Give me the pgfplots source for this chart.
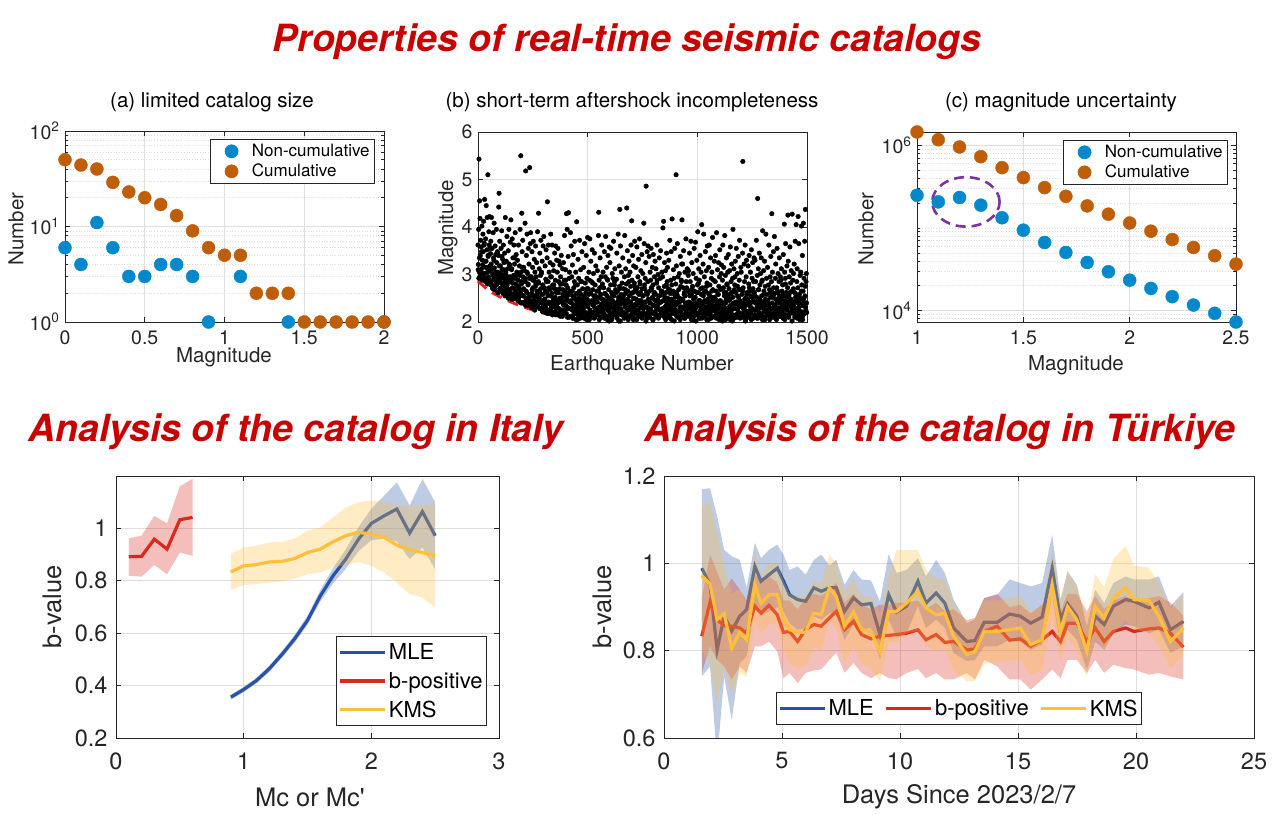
\documentclass[border=0pt]{standalone}
\usepackage{fontspec}
\setmainfont{TeX Gyre Heros}
\usepackage{pgfplots}
\usepackage{pgfplotstable}
\pgfplotsset{compat=1.18}

\definecolor{mblue}{RGB}{0,136,204}
\definecolor{mbrown}{RGB}{192,94,8}
\definecolor{axgray}{RGB}{38,38,38}
\definecolor{gridgray}{RGB}{222,222,222}
\definecolor{titlered}{RGB}{200,0,0}
\definecolor{lblue}{RGB}{40,82,165}
\definecolor{lred}{RGB}{218,40,30}
\definecolor{lyel}{RGB}{255,190,60}
\definecolor{ellpurple}{RGB}{125,50,165}
\definecolor{dashred}{RGB}{235,30,30}

\newcommand{\fs}[1]{\fontsize{#1}{#1}\selectfont}

\pgfplotsset{
  mat/.style={
    scale only axis, anchor=south west,
    axis line style={draw=axgray, line width=0.7pt},
    tick style={draw=axgray, line width=0.7pt},
    major tick length=5pt, minor tick length=3pt,
    tick align=inside,
    grid=major,
    major grid style={draw=gridgray, line width=0.7pt},
    minor grid style={draw=gridgray, line width=0.7pt, dotted},
    /pgf/number format/assume math mode=true,
    /pgf/number format/1000 sep={},
    scaled ticks=false,
    tick label style={text=axgray},
    legend cell align=left,
  },
  topax/.style={
    tick label style={font=\fs{19.5}},
    xticklabel style={yshift=-5pt}, yticklabel style={xshift=-2pt},
  },
  botax/.style={
    tick label style={font=\fs{23.5}},
    xticklabel style={yshift=-11pt}, yticklabel style={xshift=-5pt},
  },
  dotleg/.style={
    legend style={at={(1,1)}, anchor=north east, yshift=-8pt,
      draw=axgray, line width=0.7pt, font=\fs{17}, inner xsep=3pt, inner ysep=3pt, row sep=2pt},
    legend image code/.code={\path (0pt,0pt) (36pt,0pt); \draw[##1] plot coordinates {(18pt,0pt)};},
  },
}

% ---------------- panel (b) scatter, part 1: 50 rows x 20 columns, earthquake number = 1.5*(20*row+col)
\pgfplotstableread[header=false]{
3.62 3.21 3.95 5.43 3.05 4.55 4.18 3.40 3.72 2.95 3.58 3.12 4.02 3.30 2.98 3.85 3.48 4.12 3.02 3.66
4.58 3.28 2.92 3.75 3.15 4.45 2.88 3.52 4.20 3.05 5.10 3.38 2.95 3.90 3.62 4.22 3.18 2.85 3.44 3.70
3.22 4.20 2.78 3.55 3.02 2.70 3.88 3.35 2.92 4.08 3.14 2.75 3.60 3.00 3.42 2.85 3.95 3.25 2.82 3.48
3.05 2.62 3.40 4.42 4.71 2.88 3.70 2.70 3.18 2.95 3.55 2.65 3.92 3.10 2.78 3.32 2.60 3.62 2.98 3.25
2.75 3.45 2.55 4.20 3.02 2.66 3.28 2.90 3.80 2.58 3.12 2.70 3.50 2.85 3.95 2.62 3.20 2.95 3.68 2.52
4.15 2.60 3.10 2.48 3.75 2.82 3.35 2.55 2.98 3.62 2.70 3.22 2.50 3.88 2.92 2.65 3.42 2.78 3.05 2.58
3.30 2.45 2.88 3.62 2.52 2.70 3.18 2.42 3.95 2.60 5.50 3.05 2.80 4.29 3.48 2.40 3.72 2.95 2.55 3.15
2.68 3.08 2.40 4.08 2.85 5.18 2.50 3.40 2.62 3.85 2.35 3.02 2.78 3.55 2.45 3.22 2.92 5.25 2.55 3.65
3.88 2.38 2.95 2.60 3.48 2.30 3.15 2.72 3.70 2.45 2.88 3.32 2.52 3.05 2.35 3.60 2.80 2.42 3.25 2.65
2.55 3.90 2.32 2.85 4.29 2.48 3.12 2.65 3.45 2.28 2.98 3.72 2.40 3.05 2.58 3.28 2.22 2.78 3.60 2.45
3.80 2.30 2.72 2.48 3.18 2.20 2.90 3.52 2.38 2.62 3.35 4.53 2.25 2.85 3.62 2.42 3.05 2.18 2.68 3.25
2.55 3.85 2.28 2.95 2.40 3.62 2.15 2.78 3.20 2.50 3.08 2.35 2.70 3.45 2.22 2.88 3.60 2.45 2.62 3.30
2.30 3.05 2.62 3.55 2.18 2.85 3.28 2.42 2.70 3.20 2.12 2.95 2.50 3.40 2.25 2.80 2.15 3.12 2.58 2.38
3.25 2.45 2.88 3.82 2.20 2.65 3.10 2.35 2.78 4.28 2.52 3.95 2.10 2.60 3.38 4.30 2.28 2.92 3.05 2.42
2.65 3.88 2.12 3.60 2.40 2.95 2.25 3.20 2.55 2.08 3.42 2.72 2.18 2.85 3.70 2.32 2.48 3.05 2.05 2.60
4.11 2.35 2.78 2.15 3.32 2.50 2.92 2.22 2.65 3.72 2.40 2.08 3.10 2.58 2.30 2.85 3.48 2.18 2.70 2.45
2.28 3.15 2.55 2.10 3.65 2.38 2.82 2.20 2.62 3.40 2.05 2.92 2.48 3.78 2.32 2.70 2.15 3.05 2.42 2.88
3.75 2.22 2.60 3.28 2.12 2.85 2.40 3.52 2.18 2.68 2.35 3.02 2.55 2.08 3.45 2.30 2.78 2.48 3.18 2.25
2.42 2.65 2.15 3.08 2.52 2.30 3.82 4.31 2.88 2.20 2.72 3.35 2.10 2.58 2.95 2.38 3.62 2.25 2.80 2.48
3.05 2.35 2.72 2.18 3.48 2.60 2.28 2.95 3.80 2.12 2.45 3.15 2.55 2.05 2.88 3.40 2.32 2.68 2.22 3.58
2.50 3.25 2.15 2.78 3.55 2.38 2.62 2.08 3.02 2.45 2.92 2.20 3.70 2.55 2.30 2.85 3.12 2.18 2.68 2.40
2.25 2.90 3.45 2.12 2.65 2.35 3.85 2.52 2.02 3.18 2.75 4.37 2.42 3.60 2.28 2.58 3.05 2.15 2.82 2.48
3.35 2.20 2.70 2.45 2.10 2.95 3.82 2.32 2.60 3.12 2.18 2.80 4.40 2.40 3.50 2.08 2.65 2.98 2.25 3.28
2.55 2.28 3.05 2.42 2.75 3.62 2.15 4.13 2.88 2.35 3.40 2.62 2.05 3.18 2.50 2.82 3.70 2.22 2.68 2.38
3.15 2.48 2.20 3.58 2.72 2.10 2.95 2.40 3.32 2.58 2.18 3.75 2.85 2.30 2.62 3.08 2.45 2.12 3.42 2.70
2.35 3.02 2.55 2.20 4.08 3.65 2.78 2.42 2.92 2.15 3.25 4.86 2.62 2.08 3.48 2.30 2.85 3.60 2.48 2.25
3.38 2.65 2.12 3.05 2.40 2.88 3.55 2.22 2.70 2.50 3.15 2.05 2.78 3.42 2.35 2.60 2.95 2.18 3.28 2.45
2.58 3.12 2.30 2.82 3.62 2.15 2.48 3.00 2.38 2.72 2.10 3.35 2.55 2.25 2.92 3.50 2.42 2.65 2.20 3.05
2.28 2.95 3.98 2.45 4.12 2.18 2.75 3.25 2.52 2.08 3.08 2.62 2.35 3.45 2.22 2.85 3.15 2.40 2.70 2.12
3.30 2.48 2.15 3.72 2.60 2.30 2.88 3.48 2.05 2.78 4.17 2.42 2.25 2.65 3.10 2.38 2.92 2.18 3.55 2.52
2.35 2.80 5.10 3.18 2.12 2.58 3.65 2.42 2.95 2.22 2.68 2.10 3.02 2.50 2.30 3.38 2.75 2.20 2.88 3.22
4.15 2.45 3.22 2.15 2.72 3.50 2.32 2.62 2.08 3.05 2.55 2.25 3.75 2.85 2.40 2.18 3.12 2.68 2.35 2.98
3.08 2.28 2.62 3.45 2.18 2.85 2.40 3.70 2.12 2.58 3.25 2.35 2.75 2.05 3.02 2.48 2.22 3.55 2.65 2.30
2.52 3.68 2.20 2.92 2.40 3.30 2.15 2.78 3.90 2.35 2.62 3.12 2.08 2.88 2.45 3.40 2.25 2.70 3.05 2.18
4.05 2.38 2.72 2.12 3.22 2.55 3.85 2.28 2.95 2.45 2.18 3.48 2.65 2.32 3.08 2.05 2.82 3.60 2.42 2.22
2.60 3.15 2.30 3.62 2.15 2.78 2.42 3.35 2.08 2.92 2.52 3.05 2.25 3.78 2.68 2.35 2.88 2.12 3.28 2.48
2.32 2.85 3.40 2.20 2.65 3.88 2.45 2.12 3.10 2.58 2.28 3.25 2.75 2.05 2.95 3.52 2.38 2.68 2.18 3.02
3.20 2.42 2.10 2.88 3.62 2.30 2.72 3.15 2.22 2.55 3.82 2.15 2.98 2.40 2.62 3.35 2.08 2.78 2.48 3.05
2.55 3.42 2.25 2.70 2.12 3.08 2.48 3.58 2.35 2.85 2.18 3.22 2.62 2.02 2.92 3.95 2.40 2.28 3.12 2.68
2.38 2.95 3.28 2.15 2.62 3.55 2.42 2.10 3.02 2.75 2.28 3.38 2.52 2.20 2.88 3.72 2.45 2.08 2.68 3.15
3.05 2.32 2.58 2.18 3.45 5.38 2.72 2.40 2.12 3.22 2.85 2.25 3.62 2.50 2.05 2.95 3.30 2.38 2.62 2.15
2.48 3.18 2.22 2.80 3.40 2.10 2.65 2.35 3.05 2.55 2.18 3.52 2.42 2.92 2.28 3.25 2.70 2.08 2.85 3.35
2.62 2.15 3.30 2.40 2.85 2.25 3.72 2.52 2.08 2.98 4.60 2.38 3.12 2.68 2.18 3.45 2.30 2.78 2.45 3.02
2.30 3.35 2.55 2.12 2.88 3.92 2.42 2.20 3.08 2.65 2.35 3.28 2.05 2.75 2.48 3.85 2.25 2.92 2.58 2.15
3.15 2.45 2.22 2.78 3.62 2.32 2.68 2.10 2.95 2.52 3.38 2.18 2.85 4.28 2.40 3.05 2.62 2.28 3.48 2.12
2.58 3.80 2.35 2.15 2.92 3.22 2.48 2.05 2.72 3.55 2.28 2.62 3.02 2.42 2.18 2.85 3.35 2.52 2.25 2.95
2.40 2.88 3.12 2.20 2.65 2.32 2.78 2.08 3.42 2.55 2.15 4.06 3.05 2.45 2.92 3.65 2.28 2.62 2.38 3.18
2.25 2.72 4.25 3.28 2.12 2.55 2.95 2.38 3.58 2.18 2.82 2.48 3.08 2.30 2.65 4.27 2.22 2.88 2.42 3.02
2.35 3.22 2.62 2.10 3.70 2.52 2.28 4.05 2.45 2.85 3.12 2.18 2.72 4.22 2.40 3.65 2.32 2.58 2.05 2.98
2.50 3.05 2.22 4.02 2.78 2.35 3.40 2.12 2.65 4.08 2.42 2.92 2.18 3.70 2.55 4.37 2.30 2.85 3.02 2.20
}\scatterdata
% part 2: 25 rows x 20 columns, earthquake number = 60*row + 3*col + 0.75
\pgfplotstableread[header=false]{
3.10 2.92 3.35 2.98 3.05 3.48 2.88 3.20 2.95 3.62 3.02 2.85 3.28 3.15 2.80 3.40 2.90 3.08 3.55 2.78
2.85 3.12 2.72 2.98 3.30 2.68 2.90 3.05 2.78 3.45 2.62 2.95 3.18 2.70 3.02 2.82 3.38 2.66 2.92 3.10
2.62 2.85 3.05 2.55 2.78 2.95 2.50 3.22 2.68 2.88 2.58 3.12 2.72 2.48 2.92 3.35 2.60 2.80 2.52 3.00
2.52 2.75 2.45 2.98 2.62 2.40 2.85 3.15 2.55 2.70 2.42 2.92 2.35 2.65 3.05 2.48 2.80 2.58 2.38 2.95
2.45 2.30 2.68 2.88 2.38 2.55 2.25 2.75 2.95 2.42 2.62 2.32 2.82 2.50 2.28 2.70 3.02 2.40 2.58 2.35
2.22 2.48 2.65 2.30 2.85 2.18 2.55 2.40 2.72 2.25 2.95 2.35 2.60 2.20 2.45 2.78 2.32 2.52 2.15 2.68
2.38 2.15 2.62 2.28 2.50 2.80 2.20 2.42 2.12 2.68 2.35 2.55 2.25 2.88 2.18 2.45 2.72 2.30 2.10 2.58
2.12 2.45 2.28 2.65 2.08 2.35 2.52 2.18 2.78 2.25 2.42 2.05 2.60 2.32 2.15 2.48 2.85 2.22 2.38 2.10
2.30 2.08 2.52 2.18 2.40 2.70 2.12 2.35 2.58 2.05 2.25 2.62 2.15 2.45 2.82 2.20 2.38 2.10 2.55 2.28
2.15 2.42 2.22 2.65 2.05 2.32 2.50 2.10 2.75 2.28 2.18 2.45 2.08 2.60 2.35 2.12 2.90 2.25 2.40 2.02
2.48 2.12 2.30 2.05 2.58 2.20 2.40 2.78 2.15 2.35 2.62 2.08 2.28 2.45 2.18 2.70 2.02 2.38 2.55 2.22
2.20 2.55 2.08 2.38 2.68 2.15 2.28 2.48 2.05 2.85 2.32 2.12 2.42 2.60 2.22 2.10 2.50 2.30 2.75 2.18
2.35 2.05 2.62 2.25 2.12 2.45 2.80 2.18 2.38 2.08 2.55 2.28 2.15 2.70 2.42 2.02 2.32 2.58 2.20 2.48
2.10 2.40 2.28 2.72 2.18 2.52 2.05 2.35 2.62 2.22 2.12 2.45 2.88 2.30 2.08 2.55 2.25 2.15 2.42 2.65
2.58 2.22 2.12 2.45 2.32 2.05 2.78 2.28 2.50 2.15 2.38 2.68 2.08 2.25 2.48 2.18 2.60 2.35 2.02 2.42
2.25 2.62 2.38 2.10 2.52 2.20 2.42 2.05 2.32 2.85 2.15 2.48 2.28 2.58 2.08 2.40 2.18 2.72 2.30 2.12
2.42 2.15 2.55 2.30 2.05 2.68 2.22 2.38 2.12 2.50 2.28 2.02 2.62 2.35 2.18 2.82 2.45 2.08 2.32 2.58
2.08 2.35 2.22 2.62 2.42 2.12 2.28 2.75 2.18 2.48 2.05 2.38 2.55 2.20 2.32 2.65 2.10 2.45 2.25 2.52
2.50 2.28 2.08 2.40 2.18 2.58 2.32 2.12 2.45 2.70 2.22 2.02 2.38 2.15 2.62 2.30 2.05 2.48 2.80 2.25
2.18 2.45 2.32 2.05 2.60 2.25 2.12 2.52 2.38 2.08 2.78 2.28 2.42 2.15 2.55 2.20 2.35 2.68 2.10 2.40
2.38 2.10 2.65 2.28 2.15 2.48 2.02 2.35 2.58 2.22 2.12 2.42 2.72 2.18 2.30 2.05 2.52 2.25 2.45 2.62
2.25 2.55 2.12 2.42 2.32 2.08 2.68 2.20 2.48 2.15 2.38 2.85 2.05 2.30 2.58 2.22 2.10 2.45 2.35 2.18
2.45 2.20 2.38 2.05 2.62 2.28 2.15 2.52 2.10 2.72 2.32 2.22 2.48 2.08 2.40 2.65 2.18 2.30 2.55 2.12
2.12 2.48 2.25 2.58 2.18 2.38 2.05 2.80 2.30 2.15 2.52 2.42 2.10 2.35 2.62 2.20 2.45 2.02 2.28 2.70
2.32 2.15 2.60 2.22 2.42 2.08 2.55 2.28 2.12 2.48 2.38 2.65 2.20 2.05 2.35 2.50 2.18 2.75 2.25 2.40
}\scatterdataB

% ---------------- Italy (lines)
\pgfplotstableread{
x y
0.1 0.892
0.2 0.893
0.3 0.959
0.4 0.921
0.5 1.033
0.6 1.042
}\ItBP
\pgfplotstableread{
x y
0.9 0.356
1.0 0.385
1.1 0.419
1.2 0.464
1.3 0.519
1.4 0.579
1.5 0.649
1.6 0.742
1.7 0.819
1.8 0.883
1.9 0.959
2.0 1.019
2.1 1.048
2.2 1.074
2.3 0.982
2.4 1.064
2.5 0.972
}\ItMLE
\pgfplotstableread{
x y
0.9 0.834
1.0 0.857
1.1 0.862
1.2 0.872
1.3 0.874
1.4 0.885
1.5 0.908
1.6 0.921
1.7 0.949
1.8 0.972
1.9 0.985
2.0 0.978
2.1 0.966
2.2 0.936
2.3 0.918
2.4 0.908
2.5 0.895
}\ItKMS

% ---------------- Turkiye (lines): x mle bpos kms
\pgfplotstableread{
x mle bp km
1.6 0.989 0.833 0.972
1.95 0.951 0.911 0.953
2.25 0.802 0.871 0.871
2.55 0.879 0.857 0.885
2.87 0.845 0.856 0.806
3.21 0.879 0.852 0.842
3.5 0.894 0.840 0.825
3.85 0.993 0.902 0.951
4.11 0.959 0.886 0.909
4.45 0.974 0.904 0.928
4.8 0.989 0.882 0.928
5.06 0.96 0.842 0.875
5.32 0.928 0.844 0.848
5.66 0.917 0.821 0.842
6.0 0.913 0.848 0.842
6.35 0.944 0.860 0.886
6.66 0.936 0.856 0.882
7.01 0.944 0.875 0.944
7.3 0.944 0.890 0.924
7.65 0.890 0.848 0.856
8.03 0.921 0.867 0.889
8.37 0.905 0.837 0.848
8.77 0.908 0.827 0.844
9.15 0.837 0.833 0.798
9.52 0.928 0.835 0.890
9.86 0.888 0.837 0.890
10.28 0.902 0.840 0.909
10.76 0.959 0.848 0.936
11.1 0.909 0.825 0.898
11.53 0.932 0.837 0.882
11.9 0.909 0.819 0.886
12.27 0.852 0.821 0.833
12.83 0.821 0.802 0.791
13.17 0.823 0.804 0.798
13.57 0.865 0.844 0.844
14.12 0.865 0.856 0.844
14.64 0.884 0.824 0.848
15.1 0.879 0.827 0.852
15.54 0.863 0.810 0.814
16.02 0.877 0.825 0.825
16.45 0.989 0.844 0.951
16.8 0.871 0.821 0.844
17.1 0.908 0.863 0.901
17.49 0.879 0.863 0.871
17.92 0.802 0.821 0.798
18.27 0.879 0.852 0.901
18.65 0.860 0.821 0.875
19.04 0.902 0.844 0.921
19.56 0.917 0.852 0.944
19.91 0.913 0.844 0.917
20.55 0.898 0.850 0.915
20.97 0.911 0.852 0.879
21.46 0.848 0.840 0.821
22.01 0.867 0.808 0.852
}\TK

\begin{document}
\begin{tikzpicture}
\useasboundingbox (0,0) rectangle (1277pt,814pt);

% ===== (a)
\begin{axis}[mat, topax, dotleg, at={(65pt,492pt)}, width=319pt, height=191pt,
  xmin=0, xmax=2, ymode=log, ymin=1, ymax=100, clip=false,
  xtick={0,0.5,1,1.5,2}, ytick={1,10,100},
  yticklabels={10\textsuperscript{0},10\textsuperscript{1},10\textsuperscript{2}},
  minor ytick={2,3,4,5,6,7,8,9,20,30,40,50,60,70,80,90}, yminorgrids=true,
  legend style={xshift=-9pt}]
\addplot[only marks, mark=*, mark size=6.5pt, color=mblue] coordinates {(0,6)(0.1,4)(0.2,11)(0.3,6)(0.4,3)(0.5,3)(0.6,4)(0.7,4)(0.8,3)(0.9,1)(1.1,3)(1.4,1)(2,1)};
\addlegendentry{Non-cumulative}
\addplot[only marks, mark=*, mark size=6.5pt, color=mbrown] coordinates {(0,50)(0.1,44)(0.2,40)(0.3,29)(0.4,23)(0.5,20)(0.6,17)(0.7,13)(0.8,9)(0.9,6)(1,5)(1.1,5)(1.2,2)(1.3,2)(1.4,2)(1.5,1)(1.6,1)(1.7,1)(1.8,1)(1.9,1)(2,1)};
\addlegendentry{Cumulative}
\end{axis}

% ===== (b)
\begin{axis}[mat, topax, at={(478pt,492pt)}, width=329pt, height=190pt,
  xmin=0, xmax=1500, ymin=2, ymax=6, clip=false,
  xtick={0,500,1000,1500}, ytick={2,3,4,5,6}]
\pgfplotsinvokeforeach{0,...,19}{
  \addplot[only marks, mark=*, mark size=2.3pt, black] table[x expr=\coordindex*30+#1*1.5, y index=#1] {\scatterdata};
  \addplot[only marks, mark=*, mark size=2.3pt, black] table[x expr=\coordindex*60+#1*3+0.75, y index=#1] {\scatterdataB};
}
\addplot[dashred, line width=2.8pt, dash pattern=on 11pt off 7pt, smooth] coordinates {(0,2.86)(50,2.66)(100,2.53)(150,2.42)(200,2.33)(250,2.25)(310,2.17)};
\end{axis}

% ===== (c)
\begin{axis}[mat, topax, dotleg, at={(917pt,492pt)}, width=319pt, height=190pt,
  xmin=1, xmax=2.5, ymode=log, ymin=7300, ymax=1450000, clip=false,
  xtick={1,1.5,2,2.5}, ytick={10000,1000000},
  yticklabels={10\textsuperscript{4},10\textsuperscript{6}},
  minor ytick={8000,9000,20000,30000,40000,50000,60000,70000,80000,90000,100000,200000,300000,400000,500000,600000,700000,800000,900000},
  yminorgrids=true,
  legend style={xshift=-8pt}]
\addplot[only marks, mark=*, mark size=6.5pt, color=mblue] coordinates {(1,249000)(1.1,207000)(1.2,234000)(1.3,189000)(1.4,133000)(1.5,94200)(1.6,66800)(1.7,50600)(1.8,38300)(1.9,29600)(2,23400)(2.1,18600)(2.2,14800)(2.3,11700)(2.4,9290)(2.5,7300)};
\addlegendentry{Non-cumulative}
\addplot[only marks, mark=*, mark size=6.5pt, color=mbrown] coordinates {(1,1450000)(1.1,1170000)(1.2,955000)(1.3,730000)(1.4,537000)(1.5,407000)(1.6,308000)(1.7,242000)(1.8,185000)(1.9,147000)(2,115000)(2.1,91600)(2.2,72600)(2.3,58200)(2.4,46200)(2.5,36600)};
\addlegendentry{Cumulative}
\draw[ellpurple, line width=2.6pt, dash pattern=on 10pt off 6pt] (axis cs:1.23,207000) ellipse [x radius=33.7pt, y radius=24.7pt];
\end{axis}

% ===== Italy
\begin{axis}[mat, botax, at={(116pt,76pt)}, width=383pt, height=262pt,
  xmin=0, xmax=3, ymin=0.2, ymax=1.2,
  xtick={0,1,2,3}, ytick={0.2,0.4,0.6,0.8,1},
  legend style={at={(1,0)}, anchor=south east, xshift=-12pt, yshift=12pt,
    draw=axgray, line width=0.7pt, font=\fs{22}, inner xsep=2pt, inner ysep=5pt, row sep=7pt},
  legend image code/.code={\draw[#1] (0pt,0pt) -- (45pt,0pt);}]
\addplot[fill=lblue, fill opacity=0.3, draw=none, forget plot] coordinates {(0.9,0.366)(1.0,0.395)(1.1,0.430)(1.2,0.476)(1.3,0.532)(1.4,0.594)(1.5,0.667)(1.6,0.765)(1.7,0.848)(1.8,0.920)(1.9,1.005)(2.0,1.075)(2.1,1.125)(2.2,1.176)(2.3,1.087)(2.4,1.189)(2.5,1.100)(2.5,0.844)(2.4,0.927)(2.3,0.883)(2.2,0.950)(2.1,0.960)(2.0,0.955)(1.9,0.913)(1.8,0.846)(1.7,0.790)(1.6,0.720)(1.5,0.631)(1.4,0.564)(1.3,0.506)(1.2,0.452)(1.1,0.408)(1.0,0.375)(0.9,0.346)};
\addplot[lblue, line width=3.2pt] table[x=x,y=y]{\ItMLE};
\addlegendentry{MLE}
\addplot[fill=lred, fill opacity=0.3, draw=none, forget plot] coordinates {(0.1,0.962)(0.2,0.972)(0.3,1.048)(0.4,1.019)(0.5,1.161)(0.6,1.189)(0.6,0.895)(0.5,0.908)(0.4,0.825)(0.3,0.861)(0.2,0.816)(0.1,0.819)};
\addplot[lred, line width=3.2pt] table[x=x,y=y]{\ItBP};
\addlegendentry{b-positive}
\addplot[fill=lyel, fill opacity=0.3, draw=none, forget plot] coordinates {(0.9,0.904)(1.0,0.927)(1.1,0.934)(1.2,0.946)(1.3,0.949)(1.4,0.962)(1.5,0.991)(1.6,1.004)(1.7,1.042)(1.8,1.080)(1.9,1.100)(2.0,1.106)(2.1,1.100)(2.2,1.087)(2.3,1.087)(2.4,1.087)(2.5,1.093)(2.5,0.698)(2.4,0.736)(2.3,0.749)(2.2,0.793)(2.1,0.832)(2.0,0.857)(1.9,0.872)(1.8,0.860)(1.7,0.851)(1.6,0.832)(1.5,0.825)(1.4,0.809)(1.3,0.797)(1.2,0.793)(1.1,0.787)(1.0,0.784)(0.9,0.765)};
\addplot[lyel, line width=3.2pt] table[x=x,y=y]{\ItKMS};
\addlegendentry{KMS}
\end{axis}

% ===== Turkiye
\begin{axis}[mat, botax, at={(664pt,76pt)}, width=590pt, height=262pt,
  xmin=0, xmax=25, ymin=0.6, ymax=1.2,
  xtick={0,5,10,15,20,25}, ytick={0.6,0.8,1,1.2},
  legend columns=3,
  legend style={at={(0.5,0)}, anchor=south, yshift=13pt,
    draw=axgray, line width=0.7pt, font=\fs{22}, inner xsep=2pt, inner ysep=5pt,
    /tikz/every even column/.append style={column sep=9pt}},
  legend image code/.code={\draw[#1] (0pt,0pt) -- (45pt,0pt);}]
\addplot[fill=lblue, fill opacity=0.3, draw=none, forget plot] coordinates {(1.6,1.170)(1.95,1.172)(2.25,1.108)(2.55,1.031)(2.87,1.016)(3.21,1.008)(3.5,0.944)(3.85,1.047)(4.11,1.012)(4.45,1.031)(4.8,1.043)(5.06,1.02)(5.32,0.985)(5.66,0.993)(6.0,0.974)(6.35,1.008)(6.66,1.020)(7.01,0.995)(7.3,1.008)(7.65,0.951)(8.03,0.985)(8.37,0.963)(8.77,0.961)(9.15,0.913)(9.52,1.021)(9.86,0.978)(10.28,0.985)(10.76,1.012)(11.1,0.970)(11.53,1.008)(11.9,0.978)(12.27,0.917)(12.83,0.863)(13.17,0.871)(13.57,0.921)(14.12,0.928)(14.64,0.963)(15.1,0.955)(15.54,0.947)(16.02,0.955)(16.45,1.066)(16.8,0.917)(17.1,0.982)(17.49,0.951)(17.92,0.856)(18.27,0.940)(18.65,0.909)(19.04,0.955)(19.56,0.970)(19.91,0.963)(20.55,0.963)(20.97,0.970)(21.46,0.902)(22.01,0.934)
(22.01,0.810)(21.46,0.795)(20.97,0.848)(20.55,0.840)(19.91,0.856)(19.56,0.860)(19.04,0.840)(18.65,0.802)(18.27,0.821)(17.92,0.756)(17.49,0.825)(17.1,0.848)(16.8,0.810)(16.45,0.924)(16.02,0.814)(15.54,0.802)(15.1,0.821)(14.64,0.825)(14.12,0.810)(13.57,0.810)(13.17,0.779)(12.83,0.776)(12.27,0.795)(11.9,0.852)(11.53,0.871)(11.1,0.852)(10.76,0.902)(10.28,0.840)(9.86,0.829)(9.52,0.871)(9.15,0.779)(8.77,0.852)(8.37,0.848)(8.03,0.860)(7.65,0.825)(7.3,0.882)(7.01,0.886)(6.66,0.871)(6.35,0.879)(6.0,0.852)(5.66,0.848)(5.32,0.863)(5.06,0.89)(4.8,0.90)(4.45,0.89)(4.11,0.88)(3.85,0.90)(3.5,0.787)(3.21,0.772)(2.87,0.642)(2.55,0.741)(2.25,0.55)(1.95,0.764)(1.6,0.741)};
\addplot[lblue, line width=3.2pt] table[x=x,y=mle]{\TK};
\addlegendentry{MLE}
\addplot[fill=lred, fill opacity=0.3, draw=none, forget plot] coordinates {(1.6,0.92)(1.95,1.02)(2.25,0.98)(2.55,0.94)(2.87,0.965)(3.21,0.94)(3.5,0.915)(3.85,0.975)(4.11,0.955)(4.45,0.97)(4.8,0.955)(5.06,0.915)(5.32,0.915)(5.66,0.895)(6.0,0.92)(6.35,0.93)(6.66,0.925)(7.01,0.94)(7.3,0.955)(7.65,0.91)(8.03,0.93)(8.37,0.905)(8.77,0.895)(9.15,0.905)(9.52,0.905)(9.86,0.91)(10.28,0.91)(10.76,0.915)(11.1,0.895)(11.53,0.91)(11.9,0.89)(12.27,0.895)(12.83,0.87)(13.17,0.875)(13.57,0.92)(14.12,0.93)(14.64,0.90)(15.1,0.905)(15.54,0.885)(16.02,0.905)(16.45,0.92)(16.8,0.89)(17.1,0.93)(17.49,0.93)(17.92,0.89)(18.27,0.925)(18.65,0.895)(19.04,0.915)(19.56,0.925)(19.91,0.915)(20.55,0.92)(20.97,0.925)(21.46,0.91)(22.01,0.88)
(22.01,0.734)(21.46,0.741)(20.97,0.749)(20.55,0.745)(19.91,0.757)(19.56,0.760)(19.04,0.768)(18.65,0.749)(18.27,0.779)(17.92,0.749)(17.49,0.779)(17.1,0.779)(16.8,0.737)(16.45,0.757)(16.02,0.734)(15.54,0.711)(15.1,0.734)(14.64,0.734)(14.12,0.764)(13.57,0.779)(13.17,0.734)(12.83,0.749)(12.27,0.734)(11.9,0.734)(11.53,0.749)(11.1,0.737)(10.76,0.758)(10.28,0.749)(9.86,0.735)(9.52,0.737)(9.15,0.749)(8.77,0.737)(8.37,0.749)(8.03,0.772)(7.65,0.749)(7.3,0.795)(7.01,0.779)(6.66,0.757)(6.35,0.755)(6.0,0.749)(5.66,0.726)(5.32,0.749)(5.06,0.737)(4.8,0.798)(4.45,0.821)(4.11,0.81)(3.85,0.81)(3.5,0.749)(3.21,0.764)(2.87,0.734)(2.55,0.764)(2.25,0.779)(1.95,0.81)(1.6,0.749)};
\addplot[lred, line width=3.2pt] table[x=x,y=bp]{\TK};
\addlegendentry{b-positive}
\addplot[fill=lyel, fill opacity=0.3, draw=none, forget plot] coordinates {(1.6,1.13)(1.95,1.14)(2.25,1.07)(2.55,1.0)(2.87,0.93)(3.21,0.94)(3.5,0.91)(3.85,1.03)(4.11,0.975)(4.45,1.0)(4.8,1.0)(5.06,0.96)(5.32,0.93)(5.66,0.925)(6.0,0.925)(6.35,0.96)(6.66,0.955)(7.01,1.02)(7.3,1.0)(7.65,0.935)(8.03,0.965)(8.37,0.925)(8.77,0.925)(9.15,0.885)(9.52,0.975)(9.86,1.03)(10.28,1.03)(10.76,1.03)(11.1,0.985)(11.53,0.965)(11.9,0.965)(12.27,0.91)(12.83,0.865)(13.17,0.87)(13.57,0.915)(14.12,0.915)(14.64,0.92)(15.1,0.925)(15.54,0.89)(16.02,0.90)(16.45,1.03)(16.8,0.915)(17.1,0.98)(17.49,0.95)(17.92,0.87)(18.27,0.975)(18.65,0.945)(19.04,1.01)(19.56,1.04)(19.91,0.995)(20.55,0.99)(20.97,0.955)(21.46,0.895)(22.01,0.93)
(22.01,0.79)(21.46,0.76)(20.97,0.81)(20.55,0.84)(19.91,0.85)(19.56,0.87)(19.04,0.84)(18.65,0.80)(18.27,0.83)(17.92,0.74)(17.49,0.80)(17.1,0.83)(16.8,0.775)(16.45,0.875)(16.02,0.755)(15.54,0.745)(15.1,0.78)(14.64,0.778)(14.12,0.775)(13.57,0.77)(13.17,0.73)(12.83,0.73)(12.27,0.755)(11.9,0.805)(11.53,0.80)(11.1,0.81)(10.76,0.845)(10.28,0.84)(9.86,0.82)(9.52,0.82)(9.15,0.73)(8.77,0.76)(8.37,0.77)(8.03,0.81)(7.65,0.77)(7.3,0.85)(7.01,0.87)(6.66,0.80)(6.35,0.81)(6.0,0.765)(5.66,0.76)(5.32,0.77)(5.06,0.80)(4.8,0.86)(4.45,0.86)(4.11,0.84)(3.85,0.87)(3.5,0.74)(3.21,0.75)(2.87,0.70)(2.55,0.76)(2.25,0.68)(1.95,0.77)(1.6,0.80)};
\addplot[lyel, line width=3.2pt] table[x=x,y=km]{\TK};
\addlegendentry{KMS}
\end{axis}

% ===== texts
\node[font=\fs{37.5}\bfseries\itshape, text=titlered] at (627pt,772pt) {Properties of real-time seismic catalogs};
\node[font=\fs{37.5}\bfseries\itshape, text=titlered] at (296pt,382pt) {Analysis of the catalog in Italy};
\node[font=\fs{37.5}\bfseries\itshape, text=titlered] at (940pt,382pt) {Analysis of the catalog in Türkiye};

\node[font=\fs{20.5}, text=black] at (212pt,712pt) {(a) limited catalog size};
\node[font=\fs{20.5}, text=black] at (632pt,712pt) {(b) short-term aftershock incompleteness};
\node[font=\fs{20.5}, text=black] at (1061pt,712pt) {(c) magnitude uncertainty};

\node[font=\fs{20.5}, text=axgray, rotate=90] at (16pt,585pt) {Number};
\node[font=\fs{20.5}, text=axgray, rotate=90] at (448pt,586pt) {Magnitude};
\node[font=\fs{20.5}, text=axgray, rotate=90] at (866pt,585pt) {Number};
\node[font=\fs{20.5}, text=axgray] at (224pt,457pt) {Magnitude};
\node[font=\fs{20.5}, text=axgray] at (642pt,449pt) {Earthquake Number};
\node[font=\fs{20.5}, text=axgray] at (1076pt,449pt) {Magnitude};

\node[font=\fs{25.5}, text=axgray, rotate=90] at (52pt,207pt) {b-value};
\node[font=\fs{25.5}, text=axgray] at (310pt,17pt) {Mc or Mc\textquotesingle};
\node[font=\fs{25.5}, text=axgray, rotate=90] at (602pt,207pt) {b-value};
\node[font=\fs{25.5}, text=axgray] at (959pt,17pt) {Days Since 2023/2/7};
\end{tikzpicture}
\end{document}
